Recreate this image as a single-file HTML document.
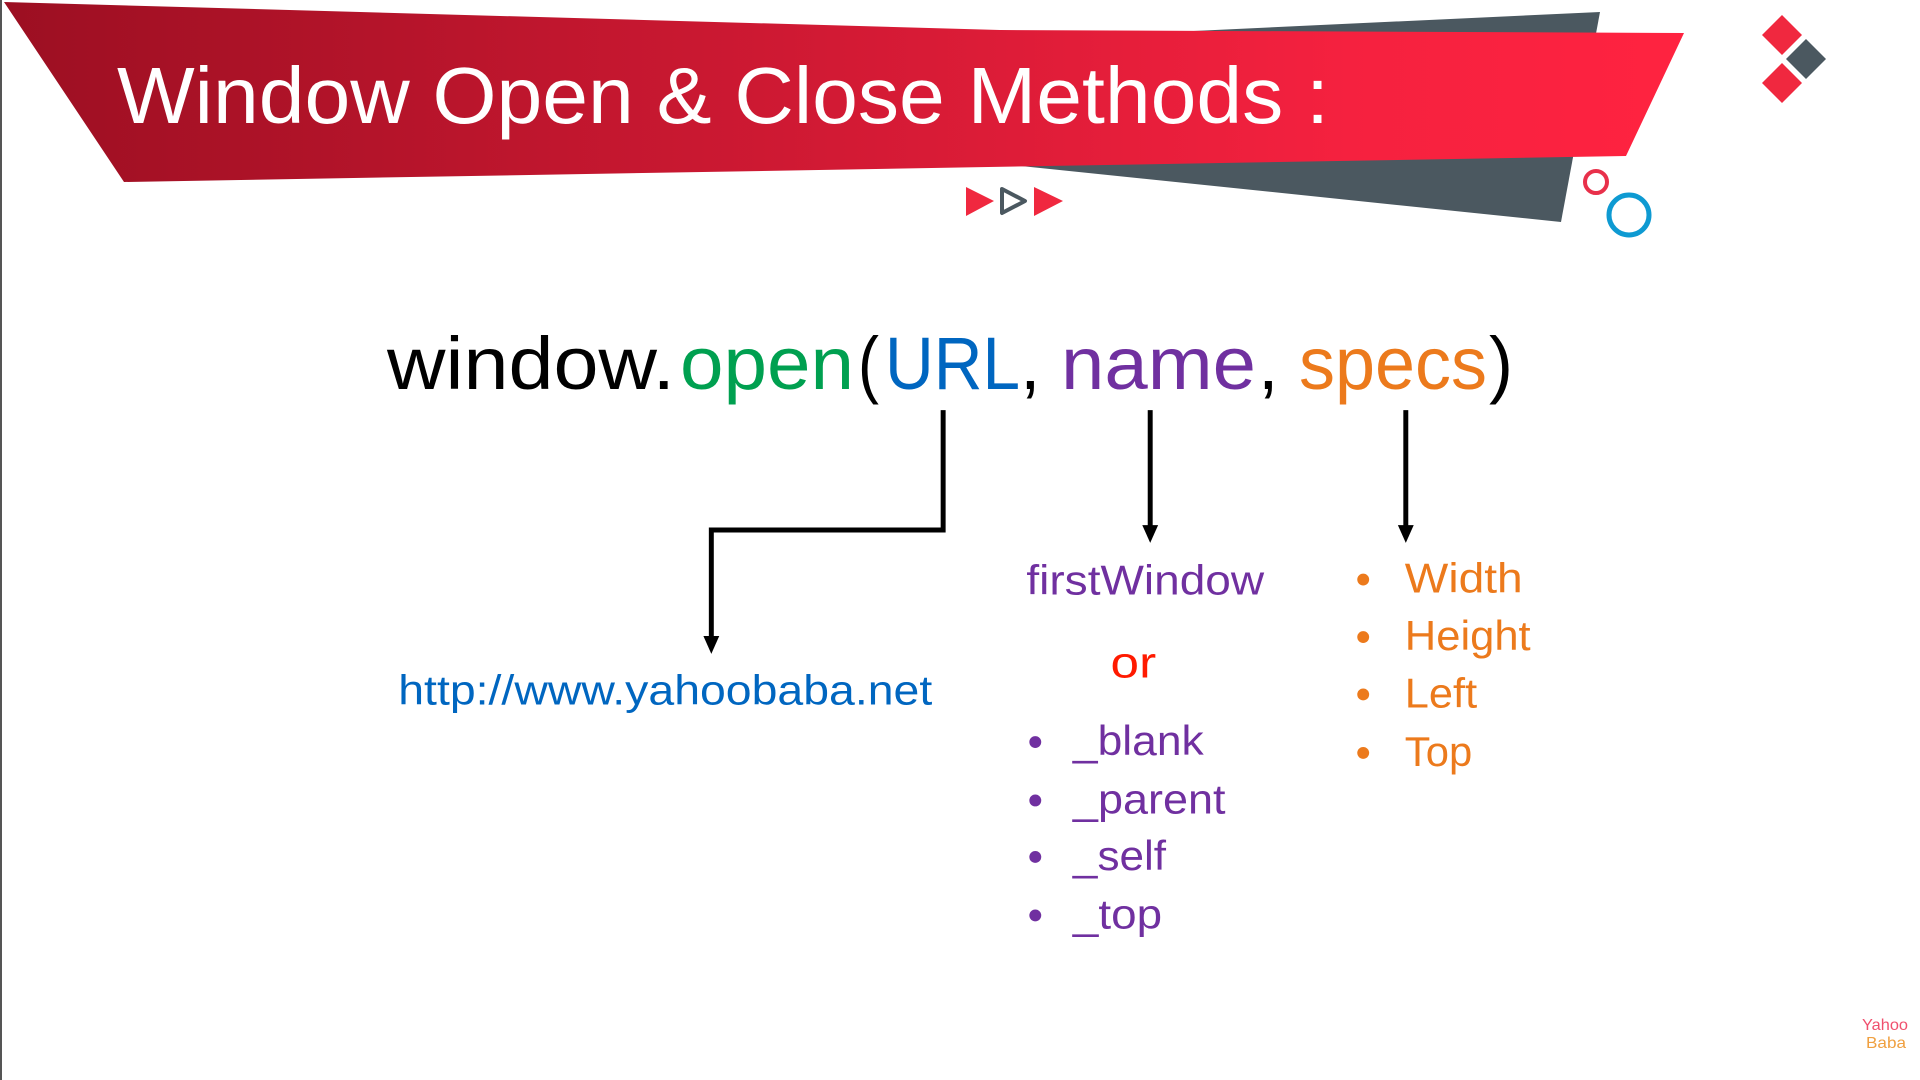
<!DOCTYPE html>
<html><head><meta charset="utf-8"><style>
html,body{margin:0;padding:0;background:#fff;width:1920px;height:1080px;overflow:hidden}
svg{display:block}
text{font-family:"Liberation Sans",sans-serif}
</style></head><body>
<svg width="1920" height="1080" viewBox="0 0 1920 1080" xmlns="http://www.w3.org/2000/svg">
<defs>
<linearGradient id="rg" x1="0" y1="0" x2="1" y2="0">
<stop offset="0" stop-color="#9c0f22"/><stop offset="0.55" stop-color="#d81b36"/><stop offset="0.8" stop-color="#f5213f"/><stop offset="1" stop-color="#ff2340"/>
</linearGradient>
</defs>
<line x1="1" y1="0" x2="1" y2="1080" stroke="#555" stroke-width="2"/>
<polygon points="1000,40 1600,12 1561,222 1002,164" fill="#4b5860"/>
<polygon points="4,2 1000,30 1684,33 1626,156 124,182" fill="url(#rg)"/>
<text x="117" y="123" font-size="80" fill="#fff" textLength="1212" lengthAdjust="spacingAndGlyphs">Window Open &amp; Close Methods :</text>
<polygon points="966,187 994,201 966,216" fill="#f0283f"/>
<polygon points="1002,189 1025,201 1002,213" fill="none" stroke="#4b5860" stroke-width="4" stroke-linejoin="round"/>
<polygon points="1034,187 1063,201 1034,216" fill="#f0283f"/>
<circle cx="1596" cy="182" r="11" fill="none" stroke="#e8304a" stroke-width="4"/>
<circle cx="1629" cy="215" r="20" fill="none" stroke="#0e9ad2" stroke-width="5"/>
<polygon points="1782,15 1802,35 1782,55 1762,35" fill="#f0283f"/>
<polygon points="1806,39 1826,59 1806,79 1786,59" fill="#4b5860"/>
<polygon points="1782,63 1802,83 1782,103 1762,83" fill="#f0283f"/>
<g font-size="74">
<text x="387" y="389" fill="#000" textLength="288" lengthAdjust="spacingAndGlyphs">window.</text>
<text x="680" y="389" fill="#00a050" textLength="174" lengthAdjust="spacingAndGlyphs">open</text>
<text x="858" y="389" fill="#000" textLength="21" lengthAdjust="spacingAndGlyphs">(</text>
<text x="885" y="389" fill="#0066c0" textLength="135" lengthAdjust="spacingAndGlyphs">URL</text>
<text x="1020" y="389" fill="#000">,</text>
<text x="1061" y="389" fill="#7030a0" textLength="195" lengthAdjust="spacingAndGlyphs">name</text>
<text x="1258" y="389" fill="#000">,</text>
<text x="1299" y="389" fill="#ec7a1c" textLength="188" lengthAdjust="spacingAndGlyphs">specs</text>
<text x="1489" y="389" fill="#000" textLength="24" lengthAdjust="spacingAndGlyphs">)</text>
</g>
<g transform="scale(0.9907)">
<g stroke="#000" stroke-width="5" fill="none">
<polyline points="952,414 952,535 718,535 718,645"/>
<line x1="1161" y1="414" x2="1161" y2="533"/>
<line x1="1419" y1="414" x2="1419" y2="533"/>
</g>
<polygon points="710,642 726,642 718,660" fill="#000"/>
<polygon points="1153,530 1169,530 1161,548" fill="#000"/>
<polygon points="1411,530 1427,530 1419,548" fill="#000"/>
<text x="402" y="711" font-size="42" fill="#0066c0" textLength="539" lengthAdjust="spacingAndGlyphs">http://www.yahoobaba.net</text>
<text x="1036" y="600" font-size="42" fill="#7030a0" textLength="240" lengthAdjust="spacingAndGlyphs">firstWindow</text>
<text x="1121" y="684" font-size="44" fill="#ff1a00" textLength="46" lengthAdjust="spacingAndGlyphs">or</text>
<g fill="#7030a0">
<circle cx="1045" cy="749" r="6"/><circle cx="1045" cy="808" r="6"/><circle cx="1045" cy="865" r="6"/><circle cx="1045" cy="924" r="6"/>
<text x="1083" y="762" font-size="42" textLength="132" lengthAdjust="spacingAndGlyphs">_blank</text>
<text x="1083" y="821" font-size="42" textLength="154" lengthAdjust="spacingAndGlyphs">_parent</text>
<text x="1083" y="878" font-size="42" textLength="94" lengthAdjust="spacingAndGlyphs">_self</text>
<text x="1083" y="937" font-size="42" textLength="90" lengthAdjust="spacingAndGlyphs">_top</text>
</g>
<g fill="#ec7a1c">
<circle cx="1376" cy="585" r="6"/><circle cx="1376" cy="643" r="6"/><circle cx="1376" cy="701" r="6"/><circle cx="1376" cy="760" r="6"/>
<text x="1418" y="598" font-size="42" textLength="119" lengthAdjust="spacingAndGlyphs">Width</text>
<text x="1418" y="656" font-size="42" textLength="127" lengthAdjust="spacingAndGlyphs">Height</text>
<text x="1418" y="714" font-size="42" textLength="73" lengthAdjust="spacingAndGlyphs">Left</text>
<text x="1418" y="773" font-size="42" textLength="68" lengthAdjust="spacingAndGlyphs">Top</text>
</g>
</g>
<text x="1862" y="1030" font-size="16" fill="#f0506e" font-family="Liberation Serif" textLength="46" lengthAdjust="spacingAndGlyphs">Yahoo</text>
<text x="1866" y="1048" font-size="16" fill="#f0a040" font-family="Liberation Serif" textLength="40" lengthAdjust="spacingAndGlyphs">Baba</text>
</svg>
</body></html>
